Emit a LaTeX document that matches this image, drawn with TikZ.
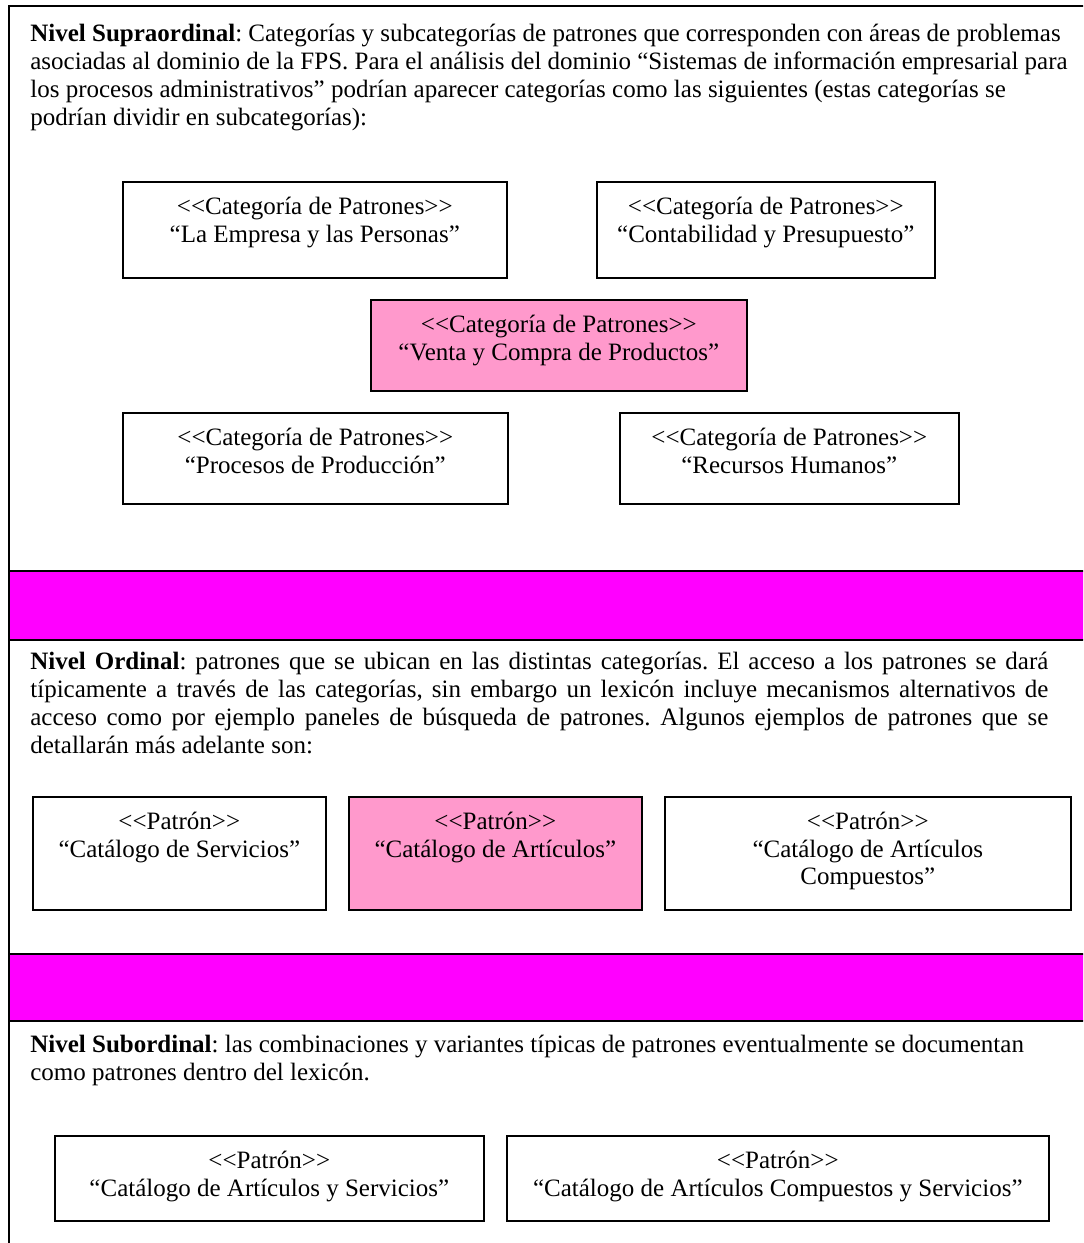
\documentclass[tikz,border=0pt]{standalone}
\usepackage{fontspec}
\newfontfamily\tnr{Liberation Serif}
\newlength\pxu
\setlength\pxu{0.5pt}
\definecolor{bandmagenta}{HTML}{FF00FF}
\definecolor{rosefill}{HTML}{FF99CC}
% text of a pattern box: fixed height and width, centred lines from the top
\newcommand{\cajatexto}[3]{\parbox[t][#1\pxu][t]{#2\pxu}{\fontsize{12.5pt}{13.6pt}\selectfont\centering\rule{0pt}{33\pxu}#3}}
% free paragraph, first baseline at the node
\newcommand{\parrafo}[1]{\parbox[t]{1200\pxu}{\raggedright #1}}
% one justified line of a paragraph
\newcommand{\lineajust}[1]{\makebox[1018\pxu][s]{#1}}
\begin{document}
\frenchspacing
\begin{tikzpicture}[x=0.5pt,y=-0.5pt,
  font=\tnr\fontsize{12.5pt}{14pt}\selectfont\frenchspacing,
  pattbox/.style={draw=black, line width=0.8pt, fill=white, inner sep=0pt, anchor=north west},
  hotbox/.style={pattbox, fill=rosefill},
  band/.style={draw=black, line width=0.9pt, fill=bandmagenta},
  frame/.style={draw=black, line width=1pt},
  para/.style={inner sep=0pt, anchor=base west}]
\useasboundingbox (0,0) rectangle (1083,1243);
\clip (0,0) rectangle (1083,1243);
\fill[white] (0,0) rectangle (1083,1243);

% outer frame and separating bands
\path[frame] (9,6) rectangle (1110,1270);
\path[band] (9,571) rectangle (1110,640);
\path[band] (9,954) rectangle (1110,1021);

% supraordinal level
\node[para] (pSupra) at (30,41) {\parrafo{\textbf{Nivel Supraordinal}: Categorías y subcategorías de patrones que corresponden con áreas de problemas\\
asociadas al dominio de la FPS. Para el análisis del dominio “Sistemas de información empresarial para\\
los procesos administrativos” podrían aparecer categorías como las siguientes (estas categorías se\\
podrían dividir en subcategorías):}};

\node[pattbox] (catEmpresa) at (122,181) {\cajatexto{96}{384}{<<Categoría de Patrones>>\\“La Empresa y las Personas”}};
\node[pattbox] (catConta) at (596,181) {\cajatexto{96}{338}{<<Categoría de Patrones>>\\“Contabilidad y Presupuesto”}};
\node[hotbox] (catVenta) at (370,299) {\cajatexto{91}{376}{<<Categoría de Patrones>>\\“Venta y Compra de Productos”}};
\node[pattbox] (catProd) at (122,412) {\cajatexto{91}{385}{<<Categoría de Patrones>>\\“Procesos de Producción”}};
\node[pattbox] (catRRHH) at (619,412) {\cajatexto{91}{339}{<<Categoría de Patrones>>\\“Recursos Humanos”}};

% ordinal level
\node[para] (pOrd) at (30,669) {\parrafo{\lineajust{\textbf{Nivel Ordinal}: patrones que se ubican en las distintas categorías. El acceso a los patrones se dará}\\
\lineajust{típicamente a través de las categorías, sin embargo un lexicón incluye mecanismos alternativos de}\\
\lineajust{acceso como por ejemplo paneles de búsqueda de patrones. Algunos ejemplos de patrones que se}\\
detallarán más adelante son:}};

\node[pattbox] (patServ) at (32,796) {\cajatexto{113}{293}{<<Patrón>>\\“Catálogo de Servicios”}};
\node[hotbox] (patArt) at (348,796) {\cajatexto{113}{293}{<<Patrón>>\\“Catálogo de Artículos”}};
\node[pattbox] (patComp) at (664,796) {\cajatexto{113}{406}{<<Patrón>>\\“Catálogo de Artículos\\Compuestos”}};

% subordinal level
\node[para] (pSub) at (30,1052) {\parrafo{\textbf{Nivel Subordinal}: las combinaciones y variantes típicas de patrones eventualmente se documentan\\
como patrones dentro del lexicón.}};

\node[pattbox] (patArtServ) at (54,1135) {\cajatexto{85}{429}{<<Patrón>>\\“Catálogo de Artículos y Servicios”}};
\node[pattbox] (patCompServ) at (506,1135) {\cajatexto{85}{542}{<<Patrón>>\\“Catálogo de Artículos Compuestos y Servicios”}};
\end{tikzpicture}
\end{document}
